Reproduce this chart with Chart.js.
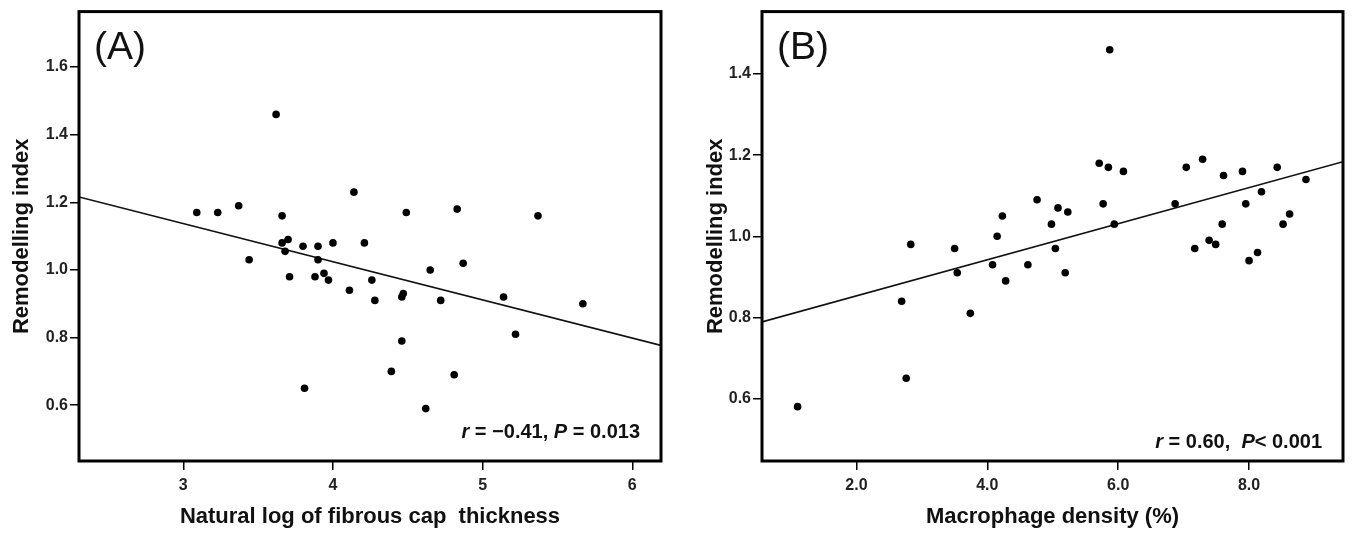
<!DOCTYPE html>
<html><head><meta charset="utf-8">
<script src="https://cdn.jsdelivr.net/npm/chart.js@4/dist/chart.umd.min.js"></script>
<style>
html,body{margin:0;padding:0;background:#fff;width:1352px;height:533px;overflow:hidden}
.c{position:absolute;top:0;height:533px;width:676px}
#wa{left:0}
#wb{left:676px}
</style></head><body>
<div class="c" id="wa"><canvas id="ca" width="676" height="533"></canvas></div>
<div class="c" id="wb"><canvas id="cb" width="676" height="533"></canvas></div>
<script>
// ---- Panel A data ----
const capLogA = [4.14,3.66,4.49,4.83,3.66,3.70,3.68,3.80,3.90,4.00,4.21,3.90,3.44,3.71,3.88,3.94,3.97,4.11,4.26,4.28,4.46,4.47,4.65,4.87,4.72,4.46,4.39,4.81,4.62,3.81,3.62,3.09,3.23,3.37,5.14,5.67,5.22,5.37];
const remodA  = [1.23,1.16,1.17,1.18,1.08,1.09,1.055,1.07,1.07,1.08,1.08,1.03,1.03,0.98,0.98,0.99,0.97,0.94,0.97,0.91,0.92,0.93,1.00,1.02,0.91,0.79,0.70,0.69,0.59,0.65,1.46,1.17,1.17,1.19,0.92,0.90,0.81,1.16];
const fitAx = [2.303, 6.192];
const fitAy = [1.216, 0.777];
const xTicksA = [3,4,5,6];
const xTickLabelsA = ['3','4','5','6'];
const yTicksA = [0.6,0.8,1.0,1.2,1.4,1.6];
const yTickLabelsA = ['0.6','0.8','1.0','1.2','1.4','1.6'];

// ---- Panel B data ----
const macroB = [1.10,2.76,2.69,2.83,3.50,3.54,3.74,4.08,4.15,4.23,4.28,5.71,5.85,6.08,4.76,5.08,5.23,4.98,5.77,5.94,5.04,4.62,5.19,7.04,7.29,7.61,7.90,8.43,8.87,8.19,6.87,7.95,7.59,8.62,8.52,7.17,7.39,7.49,8.00,8.13,5.87];
const remodB = [0.58,0.65,0.84,0.98,0.97,0.91,0.81,0.93,1.00,1.05,0.89,1.18,1.17,1.16,1.09,1.07,1.06,1.03,1.08,1.03,0.97,0.93,0.91,1.17,1.19,1.15,1.16,1.17,1.14,1.11,1.08,1.08,1.03,1.055,1.03,0.97,0.99,0.98,0.94,0.96,1.46];
const fitBx = [0.556, 9.436];
const fitBy = [0.789, 1.184];
const xTicksB = [2,4,6,8];
const xTickLabelsB = ['2.0','4.0','6.0','8.0'];
const yTicksB = [0.6,0.8,1.0,1.2,1.4];
const yTickLabelsB = ['0.6','0.8','1.0','1.2','1.4'];

const SANS = '"Liberation Sans",Arial,sans-serif';

const framePlugin = {
  id:'frame',
  afterDraw(chart, args, o){
    const {ctx, chartArea:a} = chart;
    ctx.save();
    ctx.lineWidth = 3; ctx.strokeStyle = '#000';
    ctx.strokeRect(a.left, a.top, a.right - a.left, a.bottom - a.top);
    ctx.fillStyle = '#111';
    ctx.font = '39px ' + SANS;
    ctx.textBaseline = 'top'; ctx.textAlign = 'left';
    ctx.fillText(o.label, a.left + o.labelDx, a.top + o.labelDy);
    // stats text
    ctx.textBaseline = 'alphabetic';
    const parts = o.stats;
    const fontOf = p => (p.i ? 'italic bold ' : 'bold ') + '20px ' + SANS;
    let total = 0;
    parts.forEach(p => { ctx.font = fontOf(p); total += ctx.measureText(p.t).width; });
    let x = a.right - o.statsDx - total;
    parts.forEach(p => { ctx.font = fontOf(p); ctx.fillText(p.t, x, a.bottom - o.statsDy); x += ctx.measureText(p.t).width; });
    ctx.restore();
  }
};

function makeChart(id, xs, ys, fx, fy, xr, yr, xt, xtl, yt, ytl, xTitle, yAxisW, padL, padR, yTitlePad, label, stats, statsDy){
  return new Chart(document.getElementById(id), {
    type:'scatter',
    data:{datasets:[
      {data: xs.map((x,i)=>({x:x, y:ys[i]})), pointRadius:3.8, pointHoverRadius:3.8, backgroundColor:'#000', borderWidth:0},
      {data: fx.map((x,i)=>({x:x, y:fy[i]})), showLine:true, pointRadius:0, borderColor:'#111', borderWidth:1.6, fill:false}
    ]},
    options:{
      responsive:false, animation:false, devicePixelRatio:1,
      layout:{padding:{left:padL, right:padR, top:11, bottom:0}},
      plugins:{legend:{display:false}, tooltip:{enabled:false},
        frame:{label:label, labelDx:15, labelDy:17, stats:stats, statsDx:21, statsDy:statsDy}},
      scales:{
        x:{type:'linear', min:xr[0], max:xr[1],
          afterBuildTicks:s=>{ s.ticks = xt.map(v=>({value:v})); },
          afterFit:s=>{ s.height = 72; },
          ticks:{autoSkip:false, maxRotation:0, padding:6, color:'#222',
            font:{family:SANS, size:16, weight:'bold'},
            callback:(v,i)=>xtl[i]},
          grid:{drawOnChartArea:false, drawTicks:true, tickLength:9, color:'#000', lineWidth:1.5},
          border:{display:false},
          title:{display:true, text:xTitle, color:'#111', font:{family:SANS, size:22, weight:'bold'}, padding:{top:0,bottom:3}}
        },
        y:{type:'linear', min:yr[0], max:yr[1],
          afterBuildTicks:s=>{ s.ticks = yt.map(v=>({value:v})); },
          afterFit:s=>{ s.width = yAxisW; },
          ticks:{autoSkip:false, padding:2, color:'#222',
            font:{family:SANS, size:16, weight:'bold'},
            callback:(v,i)=>ytl[i]},
          grid:{drawOnChartArea:false, drawTicks:true, tickLength:9, color:'#000', lineWidth:1.5},
          border:{display:false},
          title:{display:true, text:'Remodelling index', color:'#111', font:{family:SANS, size:22, weight:'bold'}, padding:{top:yTitlePad,bottom:0}}
        }
      }
    },
    plugins:[framePlugin]
  });
}

makeChart('ca', capLogA, remodA, fitAx, fitAy, [2.303, 6.192], [0.435, 1.764],
  xTicksA, xTickLabelsA, yTicksA, yTickLabelsA,
  'Natural log of fibrous cap  thickness', 79, 0, 15, 9, '(A)',
  [{t:'r',i:true},{t:' = \u22120.41, '},{t:'P',i:true},{t:' = 0.013'}], 23);

makeChart('cb', macroB, remodB, fitBx, fitBy, [0.556, 9.436], [0.446, 1.554],
  xTicksB, xTickLabelsB, yTicksB, yTickLabelsB,
  'Macrophage density (%)', 86, 0, 9, 27, '(B)',
  [{t:'r',i:true},{t:' = 0.60,  '},{t:'P',i:true},{t:'< 0.001'}], 13);
</script>
</body></html>
